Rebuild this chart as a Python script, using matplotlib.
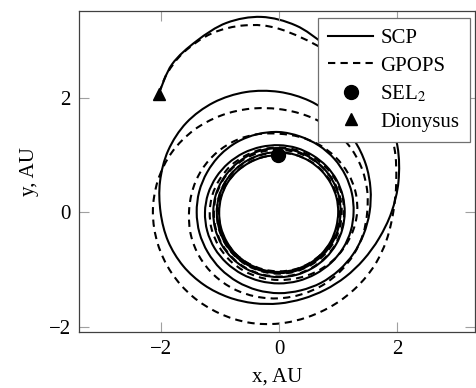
import numpy as np
import matplotlib
matplotlib.use("Agg")
import matplotlib.pyplot as plt
from matplotlib.path import Path
from matplotlib.patches import PathPatch
from matplotlib.lines import Line2D

plt.rcParams["font.family"] = ["Liberation Serif", "DejaVu Serif"]
plt.rcParams["mathtext.fontset"] = "stix"

# ── Data (polar: angle in deg unwrapped, radius in AU) ──
step = 15
theta_start = 90

# SCP: 24 samples per revolution (15 deg apart), starting at SEL2
scp_r = [
    1.00, 1.00, 1.00, 1.005, 1.01, 1.01, 1.01, 1.015, 1.02, 1.03, 1.035, 1.04,
    1.04, 1.035, 1.03, 1.02, 1.01, 1.00, 1.00, 1.005, 1.01, 1.02, 1.03, 1.04,
    1.05, 1.05, 1.05, 1.05, 1.05, 1.05, 1.05, 1.05, 1.055, 1.06, 1.06, 1.06,
    1.06, 1.06, 1.055, 1.05, 1.045, 1.04, 1.04, 1.05, 1.06, 1.075, 1.09, 1.105,
    1.12, 1.12, 1.115, 1.11, 1.11, 1.11, 1.11, 1.115, 1.12, 1.125, 1.13, 1.13,
    1.13, 1.13, 1.125, 1.12, 1.115, 1.11, 1.11, 1.115, 1.125, 1.135, 1.145, 1.16,
    1.17, 1.18, 1.195, 1.21, 1.225, 1.24, 1.25, 1.255, 1.255, 1.25, 1.245, 1.24,
    1.24, 1.24, 1.24, 1.245, 1.25, 1.255, 1.26, 1.275, 1.295, 1.32, 1.345, 1.37,
    1.40, 1.41, 1.415, 1.41, 1.40, 1.395, 1.39, 1.39, 1.39, 1.395, 1.40, 1.405,
    1.41, 1.41, 1.42, 1.43, 1.45, 1.48, 1.53, 1.60, 1.69, 1.79, 1.90, 2.01,
    2.10, 2.17, 2.21, 2.21, 2.16, 2.08, 2.00, 1.94, 1.87, 1.79, 1.71, 1.64,
    1.59, 1.56, 1.56, 1.59, 1.65, 1.75, 1.90, 2.09, 2.31, 2.55, 2.79, 3.02,
]
scp_tail_theta = [2245, 2255, 2265, 2275, 2285, 2294.4]
scp_tail_r = [3.27, 3.42, 3.42, 3.295, 3.15, 2.90]

# GPOPS
gpops_r = [
    1.00, 1.00, 1.005, 1.01, 1.015, 1.02, 1.02, 1.025, 1.03, 1.03, 1.03, 1.03,
    1.03, 1.03, 1.025, 1.02, 1.02, 1.02, 1.02, 1.02, 1.025, 1.03, 1.035, 1.04,
    1.04, 1.045, 1.045, 1.05, 1.05, 1.05, 1.05, 1.055, 1.06, 1.065, 1.07, 1.07,
    1.07, 1.07, 1.065, 1.065, 1.06, 1.06, 1.06, 1.065, 1.07, 1.075, 1.08, 1.085,
    1.09, 1.095, 1.095, 1.10, 1.10, 1.10, 1.10, 1.105, 1.11, 1.115, 1.12, 1.12,
    1.12, 1.12, 1.115, 1.11, 1.105, 1.10, 1.10, 1.105, 1.11, 1.115, 1.12, 1.125,
    1.13, 1.135, 1.14, 1.15, 1.155, 1.165, 1.17, 1.175, 1.175, 1.18, 1.18, 1.18,
    1.18, 1.19, 1.21, 1.235, 1.26, 1.29, 1.32, 1.34, 1.35, 1.355, 1.36, 1.36,
    1.37, 1.41, 1.45, 1.48, 1.50, 1.51, 1.52, 1.54, 1.55, 1.55, 1.54, 1.52,
    1.50, 1.48, 1.47, 1.46, 1.46, 1.47, 1.49, 1.54, 1.60, 1.66, 1.71, 1.75,
    1.80, 1.87, 1.95, 2.03, 2.09, 2.12, 2.13, 2.12, 2.10, 2.07, 2.03, 1.99,
    1.94, 1.89, 1.86, 1.85, 1.86, 1.88, 1.93, 2.05, 2.25, 2.48, 2.72, 2.94,
]
gpops_tail_theta = [2250, 2260, 2270, 2280, 2288, 2294.4]
gpops_tail_r = [3.20, 3.31, 3.32, 3.22, 3.07, 2.90]

sel2_x, sel2_y = -0.02, 1.0
dionysus_x, dionysus_y = -2.03, 2.07


def to_xy(r_main, tail_theta, tail_r):
    th = theta_start + step * np.arange(len(r_main))
    th = np.concatenate([th, tail_theta])
    r = np.concatenate([r_main, tail_r])
    t = np.deg2rad(th)
    return r * np.cos(t), r * np.sin(t)


def smooth_path(x, y):
    # Catmull-Rom through the read points, drawn as cubic Bezier segments
    p = np.column_stack([x, y])
    pp = np.vstack([p[0], p, p[-1]])
    verts = [p[0]]
    codes = [Path.MOVETO]
    for i in range(len(p) - 1):
        p0, p1, p2, p3 = pp[i], pp[i + 1], pp[i + 2], pp[i + 3]
        verts += [p1 + (p2 - p0) / 6, p2 - (p3 - p1) / 6, p2]
        codes += [Path.CURVE4] * 3
    return Path(verts, codes)


scp_x, scp_y = to_xy(scp_r, scp_tail_theta, scp_tail_r)
gp_x, gp_y = to_xy(gpops_r, gpops_tail_theta, gpops_tail_r)

# ── Plot ──
fig = plt.figure(figsize=(4.76, 3.88), dpi=100)
ax = fig.add_axes([79 / 476, 56 / 388, 396 / 476, 321 / 388])

dash = (0, (3.5, 2.5))
ax.add_patch(PathPatch(smooth_path(scp_x, scp_y), fill=False, lw=1.5,
                       edgecolor="black", joinstyle="round"))
ax.add_patch(PathPatch(smooth_path(gp_x, gp_y), fill=False, lw=1.5,
                       edgecolor="black", linestyle=dash))
sel2, = ax.plot([sel2_x], [sel2_y], linestyle="none", marker="o", ms=10,
                color="black", zorder=5)
dion, = ax.plot([dionysus_x], [dionysus_y], linestyle="none", marker="^", ms=9,
                color="black", zorder=5)

ax.set_xlim(-3.378, 3.311)
ax.set_ylim(-2.087, 3.51)
ax.set_xticks([-2, 0, 2])
ax.set_yticks([-2, 0, 2])
ax.tick_params(direction="in", top=True, right=True, length=7.5, width=0.8,
               color="#a0a0a0", labelsize=15, pad=6)
for s in ax.spines.values():
    s.set_color("#404040")
    s.set_linewidth(0.9)

ax.set_xlabel("x, AU", fontsize=15, labelpad=6)
ax.set_ylabel("y, AU", fontsize=15, labelpad=7)

handles = [Line2D([], [], color="black", lw=1.5),
           Line2D([], [], color="black", lw=1.5, linestyle=dash),
           sel2, dion]
labels = ["SCP", "GPOPS", "SEL$_2$", "Dionysus"]
leg = ax.legend(handles, labels, loc="upper right", bbox_to_anchor=(0.987, 0.978),
                fontsize=15, fancybox=False, framealpha=1, edgecolor="#707070",
                borderaxespad=0, handlelength=2.15, labelspacing=0.38,
                borderpad=0.5, handletextpad=0.35)
leg.get_frame().set_linewidth(0.9)

fig.savefig("out.png", dpi=100, facecolor="white")
plt.close()
